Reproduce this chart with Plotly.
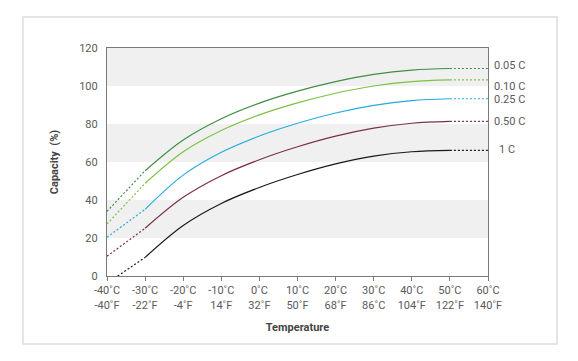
import plotly.graph_objects as go

temps = [-30, -20, -10, 0, 10, 20, 30, 40, 50]
series_names = ["0.05 C", "0.10 C", "0.25 C", "0.50 C", "1 C"]
cap_005 = [55.4, 71.6, 82.8, 91.0, 97.3, 102.3, 106.1, 108.4, 109.2]
cap_010 = [48.8, 65.4, 76.6, 84.8, 91.1, 96.2, 100.0, 102.3, 103.2]
cap_025 = [35.1, 53.1, 65.1, 73.7, 80.4, 85.8, 89.8, 92.3, 93.3]
cap_050 = [25.1, 41.4, 52.8, 61.2, 68.0, 73.6, 77.8, 80.4, 81.4]
cap_1c = [9.8, 26.6, 38.2, 46.6, 53.4, 59.0, 63.1, 65.4, 66.1]
# dashed extrapolation starting points (temperature, capacity)
start_temp = [-40, -40, -40, -40, -37.2]
start_cap = [34.0, 27.4, 20.4, 10.4, 0]
end_temp = 60
colors = ["#3f8f45", "#7dc242", "#27aae1", "#7b2f4a", "#1a1a1a"]

x_tickvals = [-40, -30, -20, -10, 0, 10, 20, 30, 40, 50, 60]
x_ticktext = ["-40˚C<br>-40˚F", "-30˚C<br>-22˚F", "-20˚C<br>-4˚F", "-10˚C<br>14˚F",
              "0˚C<br>32˚F", "10˚C<br>50˚F", "20˚C<br>68˚F", "30˚C<br>86˚C",
              "40˚C<br>104˚F", "50˚C<br>122˚F", "60˚C<br>140˚F"]
y_tickvals = [0, 20, 40, 60, 80, 100, 120]
label_y = [110.7, 100.0, 93.0, 81.4, 66.8]

all_caps = [cap_005, cap_010, cap_025, cap_050, cap_1c]

fig = go.Figure()
for name, caps, col, st, sc in zip(series_names, all_caps, colors, start_temp, start_cap):
    fig.add_trace(go.Scatter(x=[st, temps[0]], y=[sc, caps[0]], mode="lines",
                             line=dict(color=col, width=1.2, dash="2px,2px"),
                             showlegend=False, hoverinfo="skip"))
    fig.add_trace(go.Scatter(x=temps, y=caps, mode="lines", name=name,
                             line=dict(color=col, width=1.2, shape="spline", smoothing=1.0),
                             showlegend=False))
    fig.add_trace(go.Scatter(x=[temps[-1], end_temp], y=[caps[-1], caps[-1]], mode="lines",
                             line=dict(color=col, width=1.2, dash="2px,2px"),
                             showlegend=False, hoverinfo="skip"))

shapes = []
for y0 in [20, 60, 100]:
    shapes.append(dict(type="rect", xref="paper", yref="y", x0=0, x1=1, y0=y0, y1=y0 + 20,
                       fillcolor="#f0f0f0", line=dict(width=0), layer="below"))
shapes.append(dict(type="rect", xref="paper", yref="paper", x0=-0.2205, x1=1.181,
                   y0=-0.298, y1=1.136, line=dict(color="#dddddd", width=1.5),
                   fillcolor="rgba(0,0,0,0)"))

annotations = []
for name, ly in zip(series_names, label_y):
    if name == "1 C":
        annotations.append(dict(x=1.051, y=ly, xref="paper", yref="y", text=name, showarrow=False,
                                xanchor="center", font=dict(size=11, color="#5a5a5a")))
    else:
        annotations.append(dict(x=1.010, y=ly, xref="paper", yref="y", text=name, showarrow=False,
                                xanchor="left", font=dict(size=11, color="#5a5a5a")))

fig.update_layout(
    width=570, height=353,
    margin=dict(l=99, r=90, t=40, b=85),
    paper_bgcolor="white", plot_bgcolor="rgba(0,0,0,0)",
    font=dict(family="Roboto, sans-serif", size=11, color="#5a5a5a"),
    shapes=shapes, annotations=annotations,
    xaxis=dict(range=[-40, 60], tickvals=x_tickvals, ticktext=x_ticktext,
               showgrid=False, zeroline=False, showline=True, linecolor="#7a7a7a", linewidth=1.2,
               mirror=True, ticks="outside", ticklen=4, tickcolor="#7a7a7a",
               tickfont=dict(size=11, color="#5a5a5a"),
               title=dict(text="<b>Temperature</b>", font=dict(size=11, color="#444444"), standoff=12)),
    yaxis=dict(range=[0, 120], tickvals=y_tickvals,
               showgrid=False, zeroline=False, showline=True, linecolor="#7a7a7a", linewidth=1.2,
               mirror=True, ticks="outside", ticklen=6, tickcolor="rgba(0,0,0,0)",
               tickfont=dict(size=11, color="#5a5a5a"),
               title=dict(text="<b>Capacity  (%)</b>", font=dict(size=11, color="#444444"), standoff=18)),
)

fig.write_html("out.html")
